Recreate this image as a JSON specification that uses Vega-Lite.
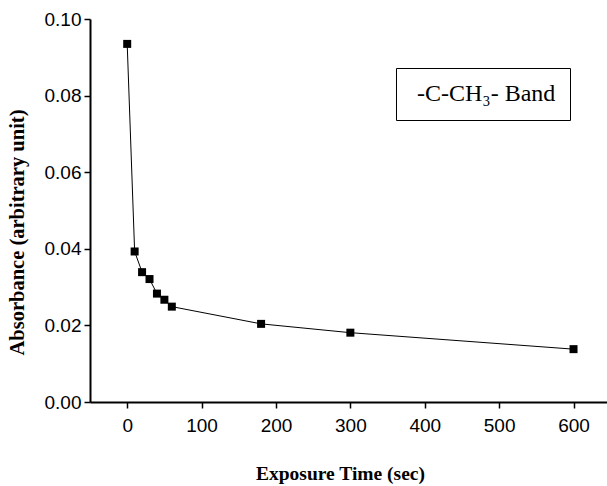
{
  "$schema": "https://vega.github.io/schema/vega-lite/v6.json",
  "width": 517,
  "height": 383,
  "autosize": {"type": "none"},
  "padding": {"left": 90, "top": 19, "right": 0, "bottom": 84},
  "background": "white",
  "config": {
    "view": {"stroke": null},
    "axis": {
      "grid": false,
      "domainColor": "black",
      "domainWidth": 2,
      "tickColor": "black",
      "tickWidth": 1.5,
      "tickSize": 6,
      "labelFont": "Liberation Sans",
      "labelFontSize": 19,
      "labelColor": "black",
      "titleFont": "Liberation Serif",
      "titleFontWeight": "bold",
      "titleColor": "black"
    }
  },
  "data": {
    "values": [
      {"t": 0, "a": 0.0935},
      {"t": 10, "a": 0.0393},
      {"t": 20, "a": 0.0339},
      {"t": 30, "a": 0.0321},
      {"t": 40, "a": 0.0283},
      {"t": 50, "a": 0.0267},
      {"t": 60, "a": 0.0249},
      {"t": 180, "a": 0.0204},
      {"t": 300, "a": 0.0181},
      {"t": 600, "a": 0.0138}
    ]
  },
  "encoding": {
    "x": {
      "field": "t",
      "type": "quantitative",
      "scale": {"domain": [-50, 645], "nice": false, "zero": false},
      "axis": {
        "values": [0, 100, 200, 300, 400, 500, 600],
        "title": "Exposure Time (sec)",
        "titleFontSize": 19.5,
        "labelPadding": 8,
        "titleX": 250,
        "titleY": 77,
        "titleBaseline": "alphabetic",
        "titleAnchor": "middle"
      }
    },
    "y": {
      "field": "a",
      "type": "quantitative",
      "scale": {"domain": [0, 0.1], "nice": false},
      "axis": {
        "values": [0, 0.02, 0.04, 0.06, 0.08, 0.1],
        "format": ".2f",
        "title": "Absorbance (arbitrary unit)",
        "titleFontSize": 20.5,
        "labelPadding": 3,
        "titleX": -73,
        "titleY": 213,
        "titleAngle": 270,
        "titleBaseline": "middle",
        "titleAnchor": "middle"
      }
    }
  },
  "layer": [
    {
      "mark": {"type": "line", "strokeWidth": 1},
      "encoding": {
        "color": {
          "datum": "-C-CH₃- Band",
          "type": "nominal",
          "scale": {"range": ["black"]},
          "legend": {
            "title": null,
            "orient": "none",
            "legendX": 306,
            "legendY": 49,
            "strokeColor": "black",
            "padding": 14,
            "symbolSize": 0,
            "symbolOpacity": 0,
            "symbolStrokeWidth": 0,
            "labelOffset": -17,
            "labelFont": "Liberation Serif, DejaVu Serif, serif",
            "labelFontSize": 24,
            "labelColor": "black",
            "labelLimit": 400
          }
        }
      }
    },
    {
      "mark": {"type": "point", "shape": "square", "filled": true, "size": 64, "color": "black", "opacity": 1}
    }
  ]
}
